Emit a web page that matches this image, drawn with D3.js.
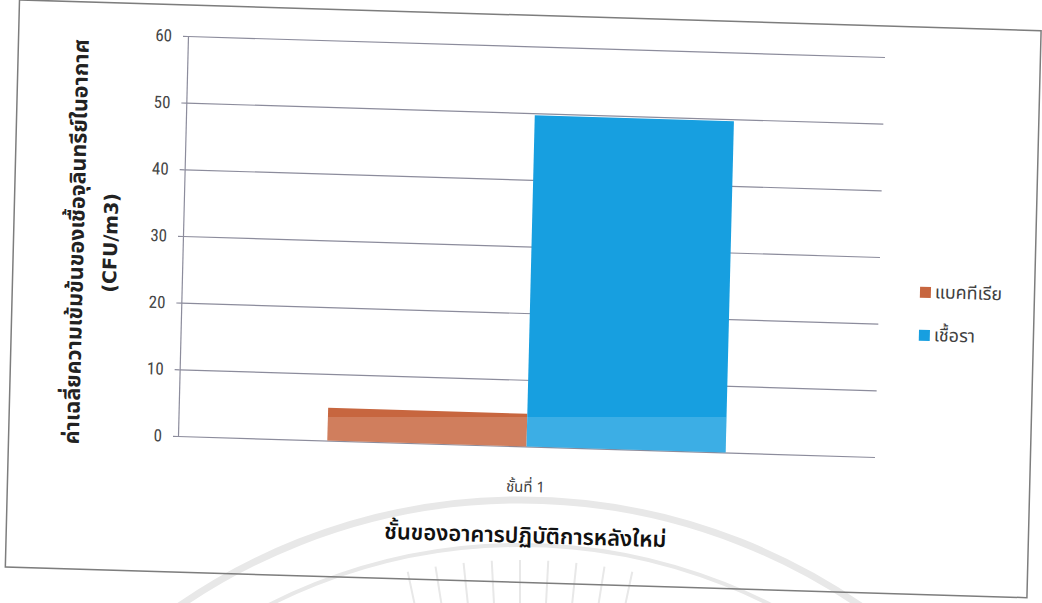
<!DOCTYPE html>
<html>
<head>
<meta charset="utf-8">
<script src="https://cdn.jsdelivr.net/npm/d3@7"></script>
<style>
  html, body { margin: 0; padding: 0; background: #ffffff; }
  svg { display: block; }
</style>
</head>
<body>
<svg id="chart" width="1042" height="603"></svg>
<script>
// ---- data ----
const categories = ["ชั้นที่ 1"];
const seriesNames = ["แบคทีเรีย", "เชื้อรา"];
const bacteria = [4.9];
const fungi = [49.7];
const yTicks = [0, 10, 20, 30, 40, 50, 60];
const yTitleLines = ["ค่าเฉลี่ยความเข้มข้นของเชื้อจุลินทรีย์ในอากาศ", "(CFU/m3)"];
const xTitle = "ชั้นของอาคารปฏิบัติการหลังใหม่";
const seriesColors = ["#c7663f", "#179fe0"];

const seriesValues = [bacteria, fungi];
const rows = categories.map((c, i) => ({
  category: c,
  values: seriesNames.map((s, j) => ({ series: s, value: seriesValues[j][i] }))
}));

const thaiFont = "'Noto Sans Thai', 'Noto Sans Thai UI', Loma, Garuda, Tahoma, 'Noto Sans', sans-serif";
const svg = d3.select("#chart");

// faint seal printed on the page, behind the chart
const seal = svg.append("g").attr("fill", "none").attr("stroke", "#e8e8e8");
seal.append("circle").attr("cx", 520).attr("cy", 1100).attr("r", 600).attr("stroke-width", 7);
seal.append("circle").attr("cx", 520).attr("cy", 1100).attr("r", 555).attr("stroke-width", 4);
d3.range(-12, 13, 3).forEach(a => {
  const t = (a - 90) * Math.PI / 180;
  seal.append("line")
    .attr("x1", 520 + 490 * Math.cos(t)).attr("y1", 1100 + 490 * Math.sin(t))
    .attr("x2", 520 + 540 * Math.cos(t)).attr("y2", 1100 + 540 * Math.sin(t))
    .attr("stroke-width", 2);
});

// the printed page sits slightly skewed on the sheet
const skew = [0.99571, 0.03, -0.025, 1, 9.89, -14.4];
const unskew = new DOMMatrix(skew).inverse();
const page = svg.append("g").attr("transform", `matrix(${skew.join(",")})`);

// chart frame
page.append("rect")
  .attr("x", 10).attr("y", 14).attr("width", 1026).attr("height", 567)
  .attr("fill", "none").attr("stroke", "#7d7d7d").attr("stroke-width", 1.5);

const plot = { left: 180, right: 880, top: 45, bottom: 445 };

const x0 = d3.scaleBand()
  .domain(categories)
  .range([plot.left, plot.right])
  .paddingOuter(0.375)
  .paddingInner(0);

const x1 = d3.scaleBand()
  .domain(seriesNames)
  .range([0, x0.bandwidth()]);

const y = d3.scaleLinear().domain([0, 60]).range([plot.bottom, plot.top]);

const color = d3.scaleOrdinal().domain(seriesNames).range(seriesColors);

// gridlines
const grid = page.append("g")
  .attr("transform", `translate(${plot.left},0)`)
  .call(d3.axisLeft(y).tickValues(yTicks).tickSize(-(plot.right - plot.left)).tickFormat(""));
grid.select(".domain").remove();
grid.selectAll(".tick line").attr("stroke", "#8c8c9c").attr("stroke-width", 1.2);

// value axis
const yAxis = page.append("g")
  .attr("transform", `translate(${plot.left},0)`)
  .call(d3.axisLeft(y).tickValues(yTicks).tickSizeInner(5).tickSizeOuter(0).tickPadding(11));
yAxis.select(".domain").attr("stroke", "#8c8c9c").attr("stroke-width", 1.2);
yAxis.selectAll(".tick line").attr("stroke", "#8c8c9c").attr("stroke-width", 1.2);
yAxis.selectAll(".tick text")
  .attr("fill", "#454545")
  .style("font-family", "'Liberation Sans Narrow', 'Roboto Condensed', 'DejaVu Sans Condensed', sans-serif")
  .style("font-size", "17px");

// bars
const barData = rows.flatMap(r => r.values.map(v => ({ category: r.category, ...v })));
const barX = d => x0(d.category) + x1(d.series);

page.append("g")
  .selectAll("rect")
  .data(barData)
  .join("rect")
  .attr("x", barX)
  .attr("y", d => y(d.value))
  .attr("width", x1.bandwidth())
  .attr("height", d => y(0) - y(d.value))
  .attr("fill", d => color(d.series));

// lighter printing band across the lower part of the bars
page.append("clipPath")
  .attr("id", "barClip")
  .selectAll("rect")
  .data(barData)
  .join("rect")
  .attr("x", barX)
  .attr("y", d => y(d.value))
  .attr("width", x1.bandwidth())
  .attr("height", d => y(0) - y(d.value));

page.append("g")
  .attr("clip-path", "url(#barClip)")
  .append("rect")
  .attr("transform", `matrix(${[unskew.a, unskew.b, unskew.c, unskew.d, unskew.e, unskew.f].join(",")})`)
  .attr("x", 0).attr("y", 417).attr("width", 1042).attr("height", 60)
  .attr("fill", "#ffffff").attr("fill-opacity", 0.16);

// category labels
page.append("g")
  .selectAll("text")
  .data(categories)
  .join("text")
  .attr("x", d => x0(d) + x0.bandwidth() / 2)
  .attr("y", 486)
  .attr("text-anchor", "middle")
  .attr("dominant-baseline", "central")
  .attr("fill", "#404040")
  .style("font-family", thaiFont)
  .style("font-size", "15px")
  .text(d => d);

// axis titles
page.append("text")
  .attr("x", 531).attr("y", 535)
  .attr("text-anchor", "middle")
  .attr("dominant-baseline", "central")
  .attr("fill", "#111")
  .style("font-family", thaiFont)
  .style("font-size", "22px")
  .style("font-weight", "600")
  .text(xTitle);

const yTitle = page.append("text")
  .attr("transform", "translate(0,254) rotate(-90)")
  .attr("text-anchor", "middle")
  .attr("fill", "#222")
  .style("font-family", "'DejaVu Sans', " + thaiFont)
  .style("font-weight", "bold");
yTitle.selectAll("tspan")
  .data(yTitleLines)
  .join("tspan")
  .attr("x", 0)
  .attr("y", (d, i) => [73, 107][i])
  .attr("dominant-baseline", "central")
  .style("font-size", (d, i) => ["21.5px", "19px"][i])
  .text(d => d);

// legend
const legend = page.append("g").attr("transform", "translate(921,279)");
const item = legend.selectAll("g")
  .data(seriesNames)
  .join("g")
  .attr("transform", (d, i) => `translate(0,${i * 43})`);
item.append("rect")
  .attr("x", 0).attr("y", -5.5).attr("width", 11).attr("height", 11)
  .attr("fill", d => color(d));
item.append("text")
  .attr("x", 15).attr("y", 0)
  .attr("dominant-baseline", "central")
  .attr("fill", "#404040")
  .style("font-family", thaiFont)
  .style("font-size", "18px")
  .style("font-stretch", "condensed")
  .text(d => d);
</script>
</body>
</html>
